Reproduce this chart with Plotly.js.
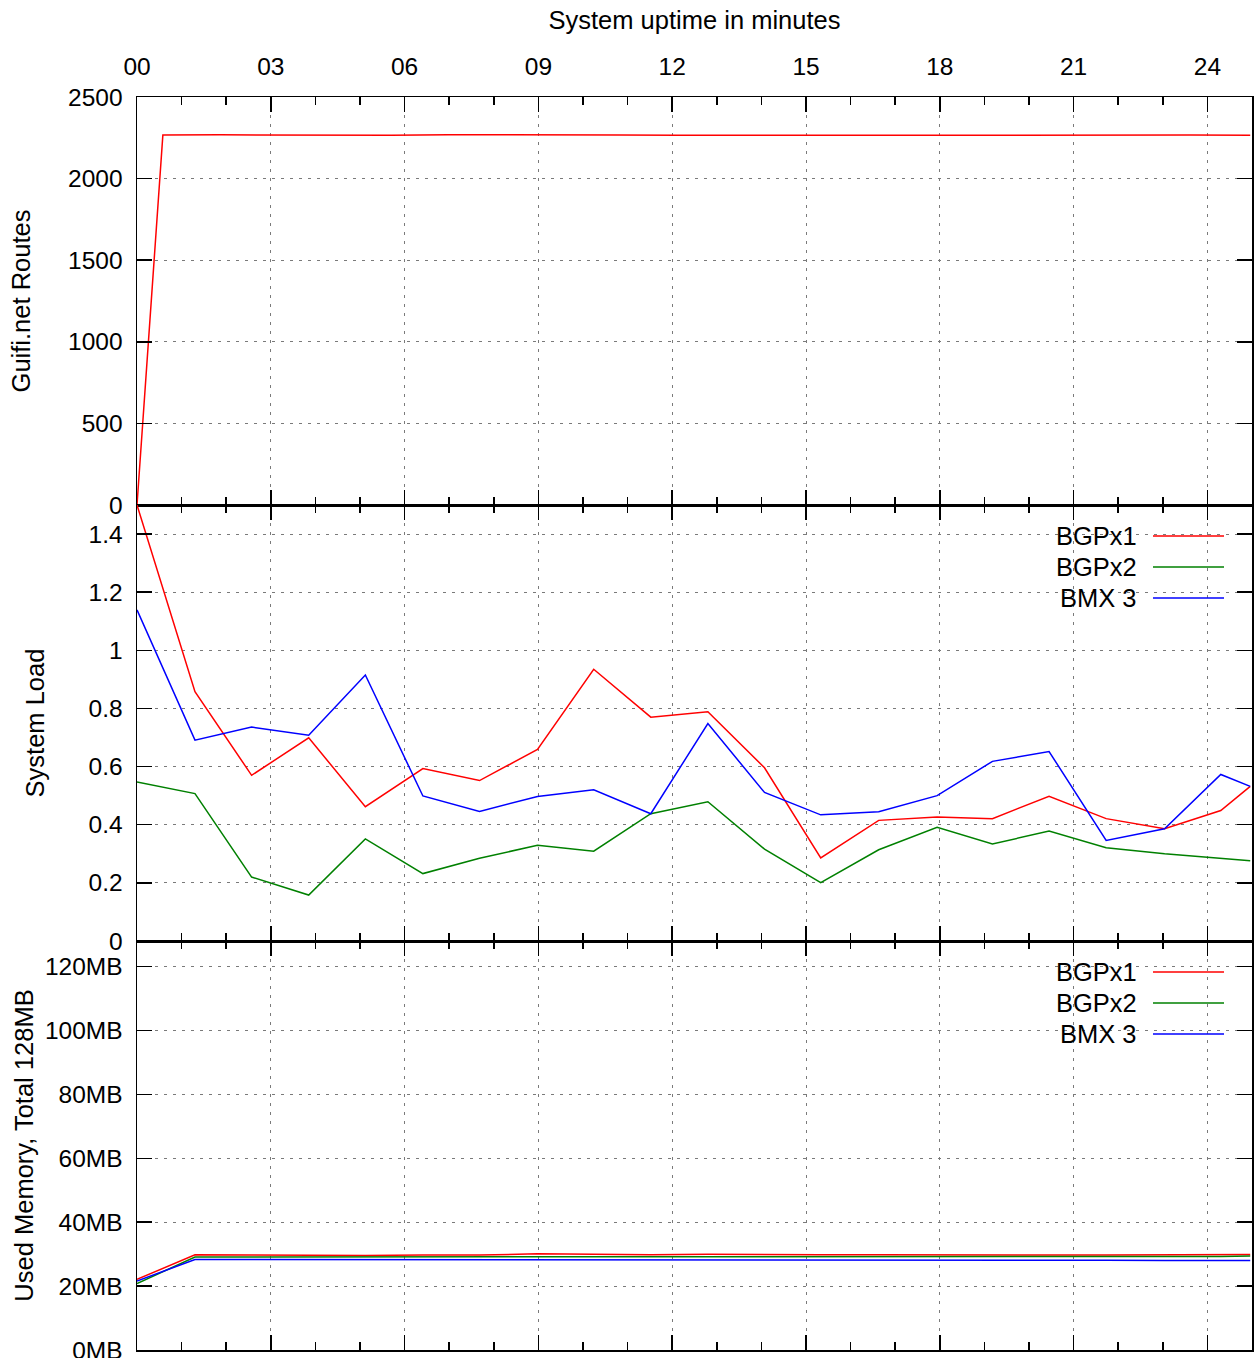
<!DOCTYPE html>
<html><head><meta charset="utf-8">
<script src="https://cdn.plot.ly/plotly-3.0.1.min.js"></script>
<style>html,body{margin:0;padding:0;background:#fff}</style>
</head><body><div id="chart" style="width:1259px;height:1358px"></div>
<script>
// ---- data ----
const sampleMinutes = [0, 1.30, 2.57, 3.85, 5.12, 6.41, 7.68, 8.98, 10.24, 11.52, 12.80, 14.07, 15.33, 16.63, 17.94, 19.18, 20.45, 21.73, 23.04, 24.30, 24.96];
const routeMinutes = [0, 0.58, 1.86, 3.14, 4.42, 5.70, 6.98, 8.26, 9.54, 10.82, 12.10, 13.38, 14.66, 15.94, 17.22, 18.50, 19.78, 21.06, 22.34, 23.62, 24.96];
const routesBGPx1 = [0, 2267, 2268, 2267, 2267, 2265, 2269, 2267, 2268, 2267, 2266, 2267, 2266, 2267, 2266, 2266, 2267, 2266, 2266, 2267, 2266];
const loadBGPx1 = [1.50, 0.858, 0.570, 0.699, 0.462, 0.593, 0.552, 0.659, 0.935, 0.770, 0.789, 0.596, 0.286, 0.415, 0.427, 0.421, 0.498, 0.421, 0.386, 0.449, 0.532];
const loadBGPx2 = [0.547, 0.507, 0.220, 0.158, 0.351, 0.232, 0.285, 0.329, 0.309, 0.438, 0.479, 0.316, 0.201, 0.314, 0.391, 0.334, 0.378, 0.321, 0.300, 0.285, 0.276];
const loadBMX3  = [1.139, 0.691, 0.736, 0.708, 0.915, 0.499, 0.446, 0.497, 0.520, 0.438, 0.748, 0.511, 0.434, 0.445, 0.500, 0.618, 0.652, 0.346, 0.386, 0.573, 0.532];
const memBGPx1 = [22.1, 29.8, 29.7, 29.6, 29.6, 29.7, 29.7, 30.1, 29.9, 29.8, 30.0, 29.8, 29.8, 29.8, 29.7, 29.8, 29.7, 29.7, 29.7, 29.7, 29.9];
const memBGPx2 = [20.8, 29.1, 29.1, 29.1, 29.1, 29.2, 29.3, 29.3, 29.2, 29.3, 29.3, 29.3, 29.3, 29.3, 29.3, 29.3, 29.3, 29.3, 29.3, 29.3, 29.4];
const memBMX3  = [21.6, 28.3, 28.3, 28.3, 28.3, 28.3, 28.2, 28.2, 28.2, 28.2, 28.2, 28.2, 28.2, 28.2, 28.2, 28.2, 28.1, 28.1, 28.0, 28.0, 28.0];
const seriesNames = ['BGPx1', 'BGPx2', 'BMX 3'];
const seriesColors = ['#ff0000', '#008000', '#0000ff'];
const xTickVals = [0, 3, 6, 9, 12, 15, 18, 21, 24];
const xTickText = ['00', '03', '06', '09', '12', '15', '18', '21', '24'];
const routeTickVals = [0, 500, 1000, 1500, 2000, 2500];
const loadTickVals = [0, 0.2, 0.4, 0.6, 0.8, 1, 1.2, 1.4];
const loadTickText = ['0', '0.2', '0.4', '0.6', '0.8', '1', '1.2', '1.4'];
const memTickVals = [0, 20, 40, 60, 80, 100, 120];
const memTickText = ['0MB', '20MB', '40MB', '60MB', '80MB', '100MB', '120MB'];
const titles = {
  x: 'System uptime in minutes',
  routes: 'Guifi.net Routes',
  load: 'System Load',
  mem: 'Used Memory, Total 128MB'
};

// ---- build ----
const FONT = 'Liberation Sans, Arial, Helvetica, sans-serif';
const FS = 24.5;   // tick labels
const FT = 25.5;   // titles and legend text
const traces = [];
traces.push({x: routeMinutes, y: routesBGPx1, xaxis: 'x', yaxis: 'y', mode: 'lines',
  line: {color: seriesColors[0], width: 1.5}, showlegend: false, name: seriesNames[0]});
[loadBGPx1, loadBGPx2, loadBMX3].forEach((d, i) => traces.push({x: sampleMinutes, y: d, xaxis: 'x2', yaxis: 'y2',
  mode: 'lines', line: {color: seriesColors[i], width: 1.5}, showlegend: false, name: seriesNames[i]}));
[memBGPx1, memBGPx2, memBMX3].forEach((d, i) => traces.push({x: sampleMinutes, y: d, xaxis: 'x3', yaxis: 'y3',
  mode: 'lines', line: {color: seriesColors[i], width: 1.5}, showlegend: false, name: seriesNames[i]}));

const H = 1253; // plot area px height
const d3 = [0, 409 / H], d2 = [409 / H, 845 / H], d1 = [845 / H, 1];
const grid = {showgrid: true, gridcolor: '#7a7a7a', gridwidth: 1, griddash: '3px,6px'};
const common = Object.assign({showline: true, linecolor: '#000', linewidth: 1.5, mirror: 'ticks',
  ticks: 'inside', ticklen: 15, tickwidth: 1.5, tickcolor: '#000', zeroline: false,
  ticklabeloverflow: 'allow',
  tickfont: {family: FONT, size: FS, color: '#000'}}, grid);
function xax(anchor, showLabels, side) {
  return Object.assign({}, common, {
    anchor: anchor, range: [0, 25], tickmode: 'array', tickvals: xTickVals, ticktext: xTickText,
    showticklabels: showLabels, side: side, ticklabelstandoff: 11,
    minor: {dtick: 1, tick0: 0, ticks: 'inside', ticklen: 8, tickwidth: 1.5, tickcolor: '#000', showgrid: false}
  });
}
function yax(anchor, dom, range, vals, text, title, standoff) {
  return Object.assign({}, common, {
    anchor: anchor, domain: dom, range: range, tickmode: 'array', tickvals: vals, ticktext: text,
    ticklabelstandoff: 8,
    title: {text: title, font: {family: FONT, size: FT, color: '#000'}, standoff: standoff}
  });
}
const layout = {
  width: 1259, height: 1358,
  margin: {l: 137, r: 7, t: 97, b: 8},
  paper_bgcolor: '#fff', plot_bgcolor: '#fff',
  font: {family: FONT, size: FS, color: '#000'},
  showlegend: false,
  xaxis: Object.assign(xax('y', true, 'top'), {title: {text: titles.x, font: {family: FONT, size: FT, color: '#000'}, standoff: 16}}),
  xaxis2: Object.assign(xax('y2', false, 'bottom'), {matches: 'x'}),
  xaxis3: Object.assign(xax('y3', false, 'bottom'), {matches: 'x'}),
  yaxis: yax('x', d1, [0, 2500], routeTickVals, routeTickVals.map(String), titles.routes, 30),
  yaxis2: yax('x2', d2, [0, 1.5], loadTickVals, loadTickText, titles.load, 36),
  yaxis3: yax('x3', d3, [0, 128], memTickVals, memTickText, titles.mem, 4),
  annotations: [], shapes: []
};
// legends (gnuplot style: text then line sample)
const legendRows = [[536, 567, 598], [972, 1003, 1034]];
const textX = (1139 - 137) / 1115, l0 = (1153 - 137) / 1115, l1 = (1224 - 137) / 1115;
legendRows.forEach(rows => rows.forEach((py, i) => {
  const yp = (1350 - py) / H;
  layout.annotations.push({xref: 'paper', yref: 'paper', x: textX, y: yp, xanchor: 'right', yanchor: 'middle',
    text: seriesNames[i], showarrow: false, font: {family: FONT, size: FT, color: '#000'}});
  layout.shapes.push({type: 'line', xref: 'paper', yref: 'paper', x0: l0, x1: l1, y0: yp, y1: yp,
    line: {color: seriesColors[i], width: 1.5}});
}));
Plotly.newPlot('chart', traces, layout, {displayModeBar: false, staticPlot: true});
</script></body></html>
